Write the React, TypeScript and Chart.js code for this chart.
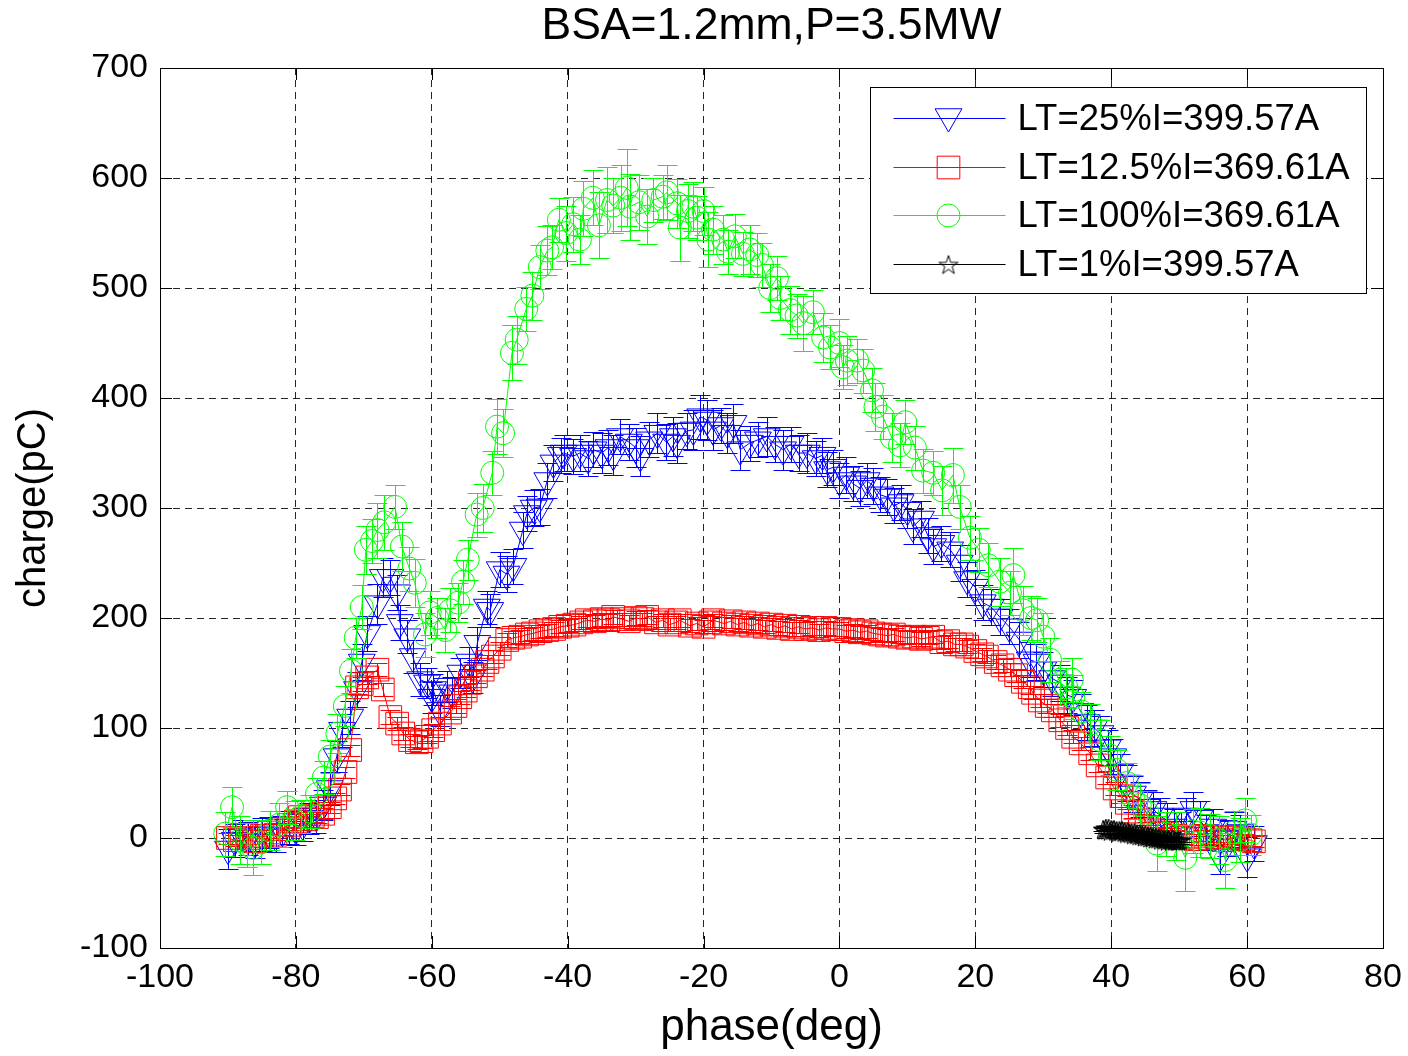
import React, { useEffect, useRef } from 'react';
import { Chart, registerables } from 'chart.js';
import { drawPoint } from 'chart.js/helpers';

Chart.register(...registerables);

const FONT = '"Liberation Sans", Arial, Helvetica, sans-serif';

const chartTitle = 'BSA=1.2mm,P=3.5MW';
const xAxisTitle = 'phase(deg)';
const yAxisTitle = 'charge(pC)';
const xTicks = [-100, -80, -60, -40, -20, 0, 20, 40, 60, 80];
const yTicks = [-100, 0, 100, 200, 300, 400, 500, 600, 700];
const seriesLabels = ['LT=25%I=399.57A', 'LT=12.5%I=369.61A', 'LT=100%I=369.61A', 'LT=1%I=399.57A'];

// [phase(deg), charge(pC), error(pC)]
const lt25: [number, number, number][] = [
  [-90, -10, 18], [-89, -2, 15], [-88, 2, 14], [-87, 0, 15], [-86, -4, 14], [-85, 3, 15], [-84, 5, 14],
  [-83, 2, 15], [-82, 6, 14], [-81, 10, 15], [-80, 8, 14], [-79, 12, 15], [-78, 18, 14], [-77, 20, 15],
  [-76, 30, 14], [-75, 45, 15], [-74, 74, 14], [-73.2, 98, 15], [-72, 110, 15], [-71, 135, 16],
  [-70.3, 160, 16], [-69.5, 186, 16], [-68, 213, 18], [-67.2, 237, 18], [-66.1, 237, 16], [-65.1, 223, 16],
  [-64.7, 196, 16], [-63.6, 183, 15], [-62.8, 165, 15], [-61.7, 144, 15], [-60.7, 141, 14], [-60, 128, 14],
  [-59.8, 135, 14], [-58.8, 116, 14], [-57.8, 138, 14], [-57, 132, 14], [-55.8, 150, 14], [-54.5, 160, 14],
  [-54, 146, 14], [-53.3, 177, 15], [-51.9, 210, 15], [-51.4, 207, 15], [-50, 244, 16], [-49, 240, 16],
  [-48, 247, 16], [-46.6, 280, 16], [-46, 295, 16], [-45, 300, 16], [-44.1, 301, 16], [-43, 325, 16],
  [-42.1, 341, 16], [-41, 348, 16], [-40.6, 350, 16], [-39.2, 347, 16], [-38.2, 350, 16], [-37, 345, 16],
  [-36.2, 353, 16], [-35, 350, 18], [-34, 355, 16], [-33.3, 348, 18], [-32.3, 365, 16], [-31, 360, 16],
  [-30, 355, 18], [-29.3, 347, 18], [-28, 362, 16], [-26.8, 368, 18], [-25.5, 360, 16], [-24.5, 365, 18],
  [-23.9, 359, 18], [-22.5, 370, 16], [-21.5, 371, 18], [-20.5, 383, 20], [-19.5, 380, 18], [-18.6, 371, 18],
  [-17.5, 375, 16], [-16.5, 368, 18], [-15.6, 377, 18], [-14.6, 353, 18], [-13.2, 359, 16], [-12, 362, 16],
  [-10.7, 365, 18], [-9.5, 358, 16], [-8.3, 353, 18], [-7.2, 358, 16], [-6, 350, 16], [-4.8, 350, 18],
  [-3.5, 345, 16], [-2.5, 348, 16], [-1.8, 335, 16], [-0.9, 337, 16], [0, 325, 16], [1, 330, 16],
  [2, 322, 16], [3, 318, 16], [4, 325, 16], [5, 320, 16], [6, 312, 16], [7, 310, 16], [8, 302, 16],
  [9, 305, 16], [10, 298, 16], [10.8, 283, 16], [12, 290, 16], [13, 275, 16], [13.8, 265, 16], [15, 268, 16],
  [16.3, 262, 16], [17.7, 250, 16], [18.8, 235, 16], [20, 228, 16], [21.1, 214, 16], [22.3, 210, 16],
  [23.6, 201, 16], [25, 192, 16], [26.5, 180, 16], [28, 162, 16], [29, 160, 16], [30, 153, 16],
  [31.3, 145, 16], [32.5, 141, 16], [33.5, 130, 16], [34.4, 128, 16], [35.5, 115, 16], [36.4, 105, 16],
  [37.5, 100, 16], [38.4, 95, 16], [39.5, 82, 16], [40.3, 74, 16], [41.3, 60, 16], [42.3, 50, 16],
  [43.2, 40, 16], [44.2, 35, 16], [45.2, 28, 16], [46.2, 26, 16], [47.2, 20, 16], [48.2, 16, 16],
  [49.2, 10, 16], [50.3, 8, 16], [51, 20, 16], [52.1, 26, 16], [53, 18, 16], [54, 5, 16], [55, 10, 16],
  [56, -17, 16], [57, 0, 16], [58, 8, 16], [59, 5, 16], [60, -17, 18], [61, -5, 16],
];

const lt12_5: [number, number, number][] = [
  [-90, 0, 5], [-89, -2, 5], [-88, 3, 5], [-87, 0, 5], [-86, -3, 5], [-85, 2, 5], [-84, 5, 5], [-83, 3, 5],
  [-82, 8, 5], [-81, 12, 5], [-80, 15, 5], [-79.4, 19, 5], [-78.5, 17, 5], [-77.5, 20, 5], [-76.9, 19, 5],
  [-76, 22, 5], [-75, 28, 5], [-74.2, 36, 5], [-73.5, 44, 5], [-72.7, 60, 5], [-72, 80, 5], [-71, 137, 6],
  [-70.3, 140, 6], [-69.5, 146, 6], [-68, 153, 6], [-67.2, 135, 6], [-66.1, 110, 6], [-65.1, 104, 6],
  [-64.2, 95, 6], [-63.2, 89, 6], [-62.2, 87, 6], [-61.5, 88, 6], [-60.7, 92, 6], [-59.8, 98, 6],
  [-58.8, 104, 6], [-57.3, 114, 6], [-56.5, 120, 6], [-55.8, 128, 6], [-55, 134, 6], [-54.4, 141, 6],
  [-53.5, 147, 6], [-52.5, 153, 6], [-51.8, 160, 6], [-51, 165, 6], [-50, 172, 6], [-48.9, 180, 6],
  [-48, 182, 6], [-47, 183, 6], [-46, 185, 6], [-45.1, 186, 6], [-44, 188, 6], [-43, 189, 6], [-42, 190, 6],
  [-41.1, 192, 6], [-40, 193, 6], [-39, 194, 6], [-38, 196, 6], [-37.2, 198, 6], [-36, 197, 6],
  [-35, 199, 6], [-34, 198, 6], [-33.3, 201, 6], [-32, 199, 6], [-31, 197, 6], [-30, 200, 6], [-29, 199, 6],
  [-28.3, 201, 6], [-27, 196, 6], [-26, 198, 6], [-25, 194, 6], [-24, 196, 6], [-23.5, 198, 6], [-22, 193, 6],
  [-21, 195, 6], [-20, 192, 6], [-19, 196, 6], [-18.6, 198, 6], [-17, 195, 6], [-16, 197, 6], [-15, 194, 6],
  [-14, 196, 6], [-13, 193, 6], [-12, 195, 6], [-11, 192, 6], [-10, 194, 6], [-9, 191, 6], [-8, 193, 6],
  [-7, 190, 6], [-6, 192, 6], [-5, 190, 6], [-4, 191, 6], [-3, 189, 6], [-2, 191, 6], [-1, 190, 6],
  [0, 190, 6], [1, 188, 6], [2, 189, 6], [3, 187, 6], [4, 188, 6], [5, 186, 6], [6, 185, 6], [7, 184, 6],
  [8, 185, 6], [8.9, 183, 6], [10, 182, 6], [11, 183, 6], [12, 181, 6], [13, 182, 6], [13.8, 183, 6],
  [15, 178, 6], [16, 179, 6], [17, 176, 6], [18, 176, 6], [18.8, 174, 6], [20, 170, 6], [21, 167, 6],
  [21.7, 165, 6], [23, 160, 6], [24, 157, 6], [25.1, 153, 6], [26, 148, 6], [27, 142, 6], [28, 137, 6],
  [28.5, 132, 6], [29.5, 125, 6], [30.5, 120, 6], [31.4, 116, 6], [32.5, 107, 6], [33.5, 100, 6],
  [34.4, 92, 6], [35.5, 86, 6], [36.9, 77, 6], [38, 66, 6], [39.4, 55, 6], [40.5, 45, 6], [41.5, 38, 6],
  [42.3, 32, 6], [43.2, 24, 6], [44.2, 16, 6], [45.2, 10, 5], [46.2, 7, 5], [47.2, 5, 5], [48.2, 4, 5],
  [49.5, 2, 5], [50.5, 0, 5], [51.5, 1, 5], [52.5, -1, 5], [53.5, 2, 5], [54.5, 0, 5], [55.5, 1, 5],
  [56.5, -2, 5], [57.5, 0, 5], [58.5, 1, 5], [59.5, -1, 5], [60.5, -2, 5], [61, -3, 5],
];

const lt100: [number, number, number][] = [
  [-90.4, 4, 20], [-89.4, 28, 18], [-88.2, -2, 22], [-87.2, -6, 20], [-86.3, -9, 25], [-85.2, -4, 20],
  [-83.8, 7, 18], [-82.5, 12, 20], [-81.3, 28, 15], [-80.2, 16, 18], [-79.2, 20, 15], [-77.9, 24, 15],
  [-76.9, 40, 15], [-75.9, 55, 15], [-75, 74, 15], [-73.9, 95, 18], [-72.8, 120, 18], [-71.9, 152, 20],
  [-71.2, 182, 18], [-70.3, 210, 20], [-69.7, 262, 22], [-68.8, 270, 20], [-68, 280, 25], [-67, 287, 25],
  [-65.4, 301, 20], [-64.4, 265, 22], [-63.3, 245, 20], [-62.5, 232, 22], [-61, 185, 20], [-60.3, 205, 20],
  [-59.2, 200, 18], [-58, 189, 20], [-57.3, 207, 20], [-56.1, 214, 18], [-55.4, 233, 20], [-54.7, 253, 18],
  [-53.4, 294, 20], [-52.5, 300, 22], [-51.1, 332, 20], [-50.4, 374, 25], [-49.5, 368, 22], [-48.2, 441, 25],
  [-47.5, 453, 22], [-46.1, 481, 20], [-45.2, 493, 22], [-44.1, 519, 20], [-43, 534, 22], [-42.3, 537, 20],
  [-41.3, 562, 20], [-40.2, 550, 25], [-39.2, 558, 25], [-38.2, 544, 22], [-37.7, 572, 25], [-36.3, 582, 25],
  [-35.4, 557, 30], [-34.2, 580, 30], [-33.3, 575, 25], [-32.2, 582, 30], [-31.3, 591, 35], [-30.8, 574, 30],
  [-29.5, 578, 25], [-28.3, 565, 25], [-27.4, 580, 20], [-26, 583, 20], [-25.4, 587, 25], [-23.9, 577, 22],
  [-23.5, 555, 30], [-22.3, 570, 25], [-21.5, 574, 22], [-21, 564, 20], [-20, 570, 22], [-19.3, 544, 25],
  [-18.6, 553, 22], [-17.1, 544, 22], [-16.4, 533, 20], [-15.4, 547, 20], [-14.2, 531, 20], [-13.2, 535, 22],
  [-12.1, 530, 20], [-11.4, 521, 20], [-10.2, 500, 22], [-9.2, 509, 20], [-8.7, 491, 20], [-7.3, 480, 22],
  [-6.3, 475, 20], [-5.3, 468, 25], [-3.9, 478, 20], [-2.4, 455, 22], [-1.4, 446, 20], [0, 450, 22],
  [0.5, 428, 20], [1.1, 434, 22], [2.6, 434, 20], [3.5, 425, 20], [4.8, 407, 20], [5.3, 392, 22],
  [6.4, 383, 20], [7.7, 364, 22], [8.9, 357, 20], [9.7, 378, 20], [11.1, 355, 20], [12.3, 334, 20],
  [13.8, 332, 20], [15.1, 316, 22], [16.7, 330, 25], [17.7, 301, 20], [19.2, 273, 20], [20.5, 262, 20],
  [21.9, 248, 20], [23.6, 233, 22], [25.1, 223, 20], [25.6, 239, 25], [27, 207, 22], [28.2, 200, 20],
  [29.1, 198, 20], [30, 183, 22], [31, 162, 20], [32.5, 141, 20], [33.4, 137, 18], [34.2, 144, 20],
  [34.4, 128, 20], [35.6, 115, 18], [36.9, 104, 18], [38.4, 89, 18], [39.8, 75, 18], [40.8, 62, 18],
  [42.3, 50, 18], [43.2, 37, 20], [44.2, 30, 20], [45.3, 23, 20], [46.7, -5, 25], [48, 4, 20],
  [49.5, 2, 22], [50.9, -18, 30], [52, 6, 20], [53.1, 5, 22], [54.5, 2, 20], [55.8, -2, 22],
  [56.8, -20, 25], [58, 5, 20], [59, -2, 20], [59.7, 16, 20], [60.5, 3, 18],
];

const lt1: [number, number, number][] = [
  [38.8, 8, 2], [39, 7, 2], [39.2, 9, 2], [39.4, 7, 2], [39.6, 9, 2], [39.8, 6, 2], [40, 8, 2],
  [40.2, 7, 2], [40.4, 8, 2], [40.6, 6, 2], [40.8, 7, 2], [41, 5, 2], [41.2, 7, 2], [41.4, 6, 2],
  [41.6, 7, 2], [41.8, 5, 2], [42, 6, 2], [42.2, 4, 2], [42.4, 6, 2], [42.6, 5, 2], [42.8, 4, 2],
  [43, 5, 2], [43.2, 3, 2], [43.4, 5, 2], [43.6, 3, 2], [43.8, 4, 2], [44, 2, 2], [44.2, 4, 2],
  [44.4, 2, 2], [44.6, 3, 2], [44.8, 1, 2], [45, 3, 2], [45.2, 1, 2], [45.4, 2, 2], [45.6, 0, 2],
  [45.8, 2, 2], [46, 0, 2], [46.2, 1, 2], [46.4, -1, 2], [46.6, 1, 2], [46.8, -1, 2], [47, 0, 2],
  [47.2, -2, 2], [47.4, 0, 2], [47.6, -1, 2], [47.8, -2, 2], [48, -1, 2], [48.2, -3, 2], [48.4, -1, 2],
  [48.6, -2, 2], [48.8, -3, 2], [49, -1, 2], [49.2, -3, 2], [49.4, -2, 2], [49.6, -3, 2], [49.8, -2, 2],
  [50, -3, 2], [50.2, -2, 2],
];

function makePentagram(size: number, color: string) {
  const c = document.createElement('canvas');
  c.width = size;
  c.height = size;
  const g = c.getContext('2d')!;
  g.strokeStyle = color;
  g.lineWidth = 1;
  const cx = size / 2;
  const cy = size / 2 + 1;
  const R = size / 2 - 1;
  const r = R * 0.382;
  g.beginPath();
  for (let i = 0; i < 10; i++) {
    const ang = -Math.PI / 2 + (i * Math.PI) / 5;
    const rad = i % 2 === 0 ? R : r;
    const px = cx + rad * Math.cos(ang);
    const py = cy + rad * Math.sin(ang);
    if (i === 0) g.moveTo(px, py);
    else g.lineTo(px, py);
  }
  g.closePath();
  g.stroke();
  return c;
}

const errorBarPlugin = {
  id: 'errorBars',
  beforeDatasetDraw(chart: any, args: any) {
    const ds = chart.data.datasets[args.index];
    const errs: number[] | undefined = ds.errors;
    if (!errs) return;
    const { ctx, chartArea } = chart;
    const xs = chart.scales.x;
    const ys = chart.scales.y;
    const cap = 10;
    ctx.save();
    ctx.beginPath();
    ctx.rect(chartArea.left, chartArea.top, chartArea.right - chartArea.left, chartArea.bottom - chartArea.top);
    ctx.clip();
    ctx.strokeStyle = ds.borderColor;
    ctx.lineWidth = 1;
    ctx.beginPath();
    ds.data.forEach((p: any, i: number) => {
      const e = errs[i] ?? 0;
      const px = Math.round(xs.getPixelForValue(p.x)) + 0.5;
      const y1 = Math.round(ys.getPixelForValue(p.y - e)) + 0.5;
      const y2 = Math.round(ys.getPixelForValue(p.y + e)) + 0.5;
      ctx.moveTo(px, y1);
      ctx.lineTo(px, y2);
      ctx.moveTo(px - cap, y1);
      ctx.lineTo(px + cap, y1);
      ctx.moveTo(px - cap, y2);
      ctx.lineTo(px + cap, y2);
    });
    ctx.stroke();
    ctx.restore();
  },
};

const framePlugin = {
  id: 'frameAndLegend',
  afterDraw(chart: any) {
    const { ctx, chartArea } = chart;
    const { left, right, top, bottom } = chartArea;
    const xs = chart.scales.x;
    const ys = chart.scales.y;
    ctx.save();
    ctx.strokeStyle = '#000';
    ctx.lineWidth = 1;
    ctx.setLineDash([]);
    ctx.beginPath();
    ctx.rect(Math.round(left) + 0.5, Math.round(top) + 0.5, Math.round(right - left), Math.round(bottom - top));
    ctx.stroke();
    const tl = 12;
    ctx.beginPath();
    xTicks.forEach((v) => {
      const px = Math.round(xs.getPixelForValue(v)) + 0.5;
      ctx.moveTo(px, bottom);
      ctx.lineTo(px, bottom - tl);
      ctx.moveTo(px, top);
      ctx.lineTo(px, top + tl);
    });
    yTicks.forEach((v) => {
      const py = Math.round(ys.getPixelForValue(v)) + 0.5;
      ctx.moveTo(left, py);
      ctx.lineTo(left + tl, py);
      ctx.moveTo(right, py);
      ctx.lineTo(right - tl, py);
    });
    ctx.stroke();

    // legend box
    const lx = Math.round(left + 710) + 0.5;
    const ly = Math.round(top + 19) + 0.5;
    const lw = 496;
    const lh = 206;
    ctx.fillStyle = '#fff';
    ctx.fillRect(lx, ly, lw, lh);
    ctx.strokeStyle = '#000';
    ctx.strokeRect(lx, ly, lw, lh);
    const rowOffsets = [30, 79, 127, 176];
    chart.data.datasets.forEach((ds: any, i: number) => {
      const ry = Math.round(ly + rowOffsets[i]) + 0.5;
      ctx.strokeStyle = ds.borderColor;
      ctx.lineWidth = 1;
      ctx.beginPath();
      ctx.moveTo(lx + 23, ry);
      ctx.lineTo(lx + 135, ry);
      ctx.stroke();
      ctx.fillStyle = 'rgba(0,0,0,0)';
      drawPoint(ctx, {
        pointStyle: ds.pointStyle,
        rotation: ds.pointRotation || 0,
        radius: ds.pointRadius,
        borderWidth: 1,
      } as any, lx + 78, ry + (ds.pointStyle === 'triangle' ? -2 : 0));
      ctx.fillStyle = '#000';
      ctx.font = `36.5px ${FONT}`;
      ctx.textAlign = 'left';
      ctx.textBaseline = 'middle';
      ctx.fillText(ds.label, lx + 147, ry + 1);
    });
    ctx.restore();
  },
};

function toPoints(arr: [number, number, number][]) {
  return arr.map(([x, y]) => ({ x, y }));
}

export default function App() {
  const canvasRef = useRef<HTMLCanvasElement | null>(null);

  useEffect(() => {
    const canvas = canvasRef.current;
    if (!canvas) return;
    const star = makePentagram(22, '#000');

    const base = {
      borderWidth: 1,
      backgroundColor: 'rgba(0,0,0,0)',
      pointBackgroundColor: 'rgba(0,0,0,0)',
      pointBorderWidth: 1,
      pointHoverRadius: 0,
      showLine: true,
      tension: 0,
    };

    const chart = new Chart(canvas, {
      type: 'scatter',
      data: {
        datasets: [
          {
            ...base,
            label: seriesLabels[0],
            data: toPoints(lt25),
            errors: lt25.map((p) => p[2]),
            borderColor: '#0000ff',
            pointBorderColor: '#0000ff',
            pointStyle: 'triangle',
            pointRotation: 180,
            pointRadius: 15.5,
            order: 4,
          } as any,
          {
            ...base,
            label: seriesLabels[1],
            data: toPoints(lt12_5),
            errors: lt12_5.map((p) => p[2]),
            borderColor: '#ff0000',
            pointBorderColor: '#ff0000',
            pointStyle: 'rect',
            pointRadius: 16,
            order: 3,
          } as any,
          {
            ...base,
            label: seriesLabels[2],
            data: toPoints(lt100),
            errors: lt100.map((p) => p[2]),
            borderColor: '#00ff00',
            pointBorderColor: '#00ff00',
            pointStyle: 'circle',
            pointRadius: 11.5,
            order: 2,
          } as any,
          {
            ...base,
            label: seriesLabels[3],
            data: toPoints(lt1),
            errors: lt1.map((p) => p[2]),
            borderColor: '#000000',
            pointBorderColor: '#000000',
            pointStyle: star,
            pointRadius: 11,
            order: 1,
          } as any,
        ],
      },
      options: {
        responsive: false,
        animation: false,
        events: [],
        layout: { padding: { left: 0, top: 0, right: 25, bottom: 0 } },
        plugins: {
          legend: { display: false },
          tooltip: { enabled: false },
          title: {
            display: true,
            fullSize: false,
            text: chartTitle,
            color: '#000',
            font: { family: FONT, size: 44.5, weight: 'normal' },
            padding: { top: 0, bottom: 14.6 },
          },
        },
        scales: {
          x: {
            type: 'linear',
            min: -100,
            max: 80,
            afterBuildTicks: (s: any) => {
              s.ticks = xTicks.map((v) => ({ value: v }));
            },
            afterFit: (s: any) => {
              s.height = 108;
              s.paddingLeft = 0;
              s.paddingRight = 0;
            },
            ticks: {
              color: '#000',
              font: { family: FONT, size: 34 },
              padding: 9,
              maxRotation: 0,
              autoSkip: false,
            },
            grid: { color: 'rgba(0,0,0,0.85)', lineWidth: 1, drawTicks: false, borderDash: [7, 5] } as any,
            border: { display: true, color: '#000', width: 1, dash: [7, 5] },
            title: {
              display: true,
              text: xAxisTitle,
              color: '#000',
              font: { family: FONT, size: 44 },
              padding: { top: 0, bottom: 2 },
            },
          },
          y: {
            type: 'linear',
            min: -100,
            max: 700,
            afterBuildTicks: (s: any) => {
              s.ticks = yTicks.map((v) => ({ value: v }));
            },
            afterFit: (s: any) => {
              s.width = 160;
              s.paddingTop = 0;
              s.paddingBottom = 0;
            },
            ticks: {
              color: '#000',
              font: { family: FONT, size: 34 },
              padding: 12,
              autoSkip: false,
            },
            grid: { color: 'rgba(0,0,0,0.85)', lineWidth: 1, drawTicks: false, borderDash: [7, 5] } as any,
            border: { display: true, color: '#000', width: 1, dash: [7, 5] },
            title: {
              display: true,
              text: yAxisTitle,
              color: '#000',
              font: { family: FONT, size: 40 },
              padding: { top: 10, bottom: 0 },
            },
          },
        },
      } as any,
      plugins: [errorBarPlugin, framePlugin],
    });

    return () => {
      chart.destroy();
    };
  }, []);

  return (
    <div style={{ position: 'fixed', left: 0, top: 0, width: 1408, height: 1056, background: '#fff' }}>
      <canvas ref={canvasRef} width={1408} height={1056} style={{ display: 'block', width: 1408, height: 1056 }} />
    </div>
  );
}
